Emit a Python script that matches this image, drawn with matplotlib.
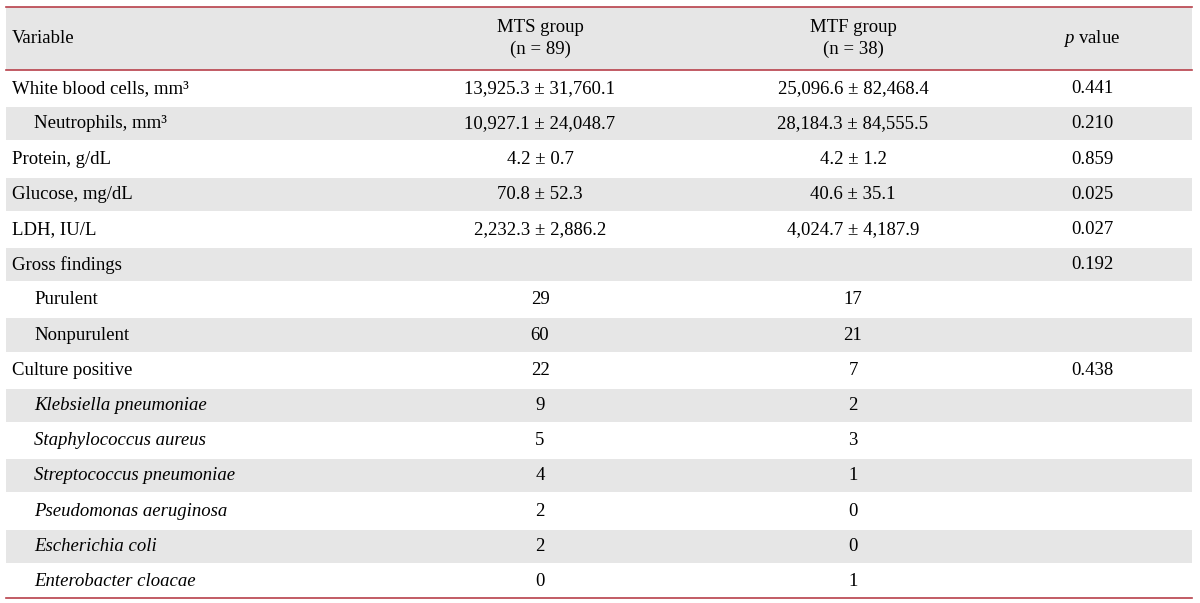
import matplotlib.pyplot as plt
from matplotlib.patches import Rectangle

plt.rcParams["font.family"] = "Liberation Serif"
plt.rcParams["mathtext.fontset"] = "custom"
plt.rcParams["mathtext.rm"] = "Liberation Serif"
plt.rcParams["mathtext.it"] = "Liberation Serif:italic"

header = ["Variable", "MTS group\n(n = 89)", "MTF group\n(n = 38)", "$\\it{p}$ value"]
variables = ["White blood cells, mm³", "Neutrophils, mm³", "Protein, g/dL", "Glucose, mg/dL",
             "LDH, IU/L", "Gross findings", "Purulent", "Nonpurulent", "Culture positive",
             "Klebsiella pneumoniae", "Staphylococcus aureus", "Streptococcus pneumoniae",
             "Pseudomonas aeruginosa", "Escherichia coli", "Enterobacter cloacae"]
indent = [0, 1, 0, 0, 0, 0, 1, 1, 0, 1, 1, 1, 1, 1, 1]
italic = [False] * 9 + [True] * 6
mts = ["13,925.3 ± 31,760.1", "10,927.1 ± 24,048.7", "4.2 ± 0.7", "70.8 ± 52.3",
       "2,232.3 ± 2,886.2", "", "29", "60", "22", "9", "5", "4", "2", "2", "0"]
mtf = ["25,096.6 ± 82,468.4", "28,184.3 ± 84,555.5", "4.2 ± 1.2", "40.6 ± 35.1",
       "4,024.7 ± 4,187.9", "", "17", "21", "7", "2", "3", "1", "0", "0", "1"]
pvals = ["0.441", "0.210", "0.859", "0.025", "0.027", "0.192", "", "", "0.438",
         "", "", "", "", "", ""]

fig = plt.figure(figsize=(12, 6.03), dpi=100)
ax = fig.add_axes([0, 0, 1, 1])
ax.set_xlim(0, 1200)
ax.set_ylim(603, 0)
ax.axis("off")

gray = "#e6e6e6"
red = "#b8404a"
x0, x1 = 6, 1192
top, head_bot = 7, 70
row_h = (598 - head_bot) / len(variables)
fs = 13.5
cols = [540, 853, 1092]

ax.add_patch(Rectangle((x0, top), x1 - x0, head_bot - top, color=gray, lw=0))
hy = (top + head_bot) / 2
ax.text(12, hy, header[0], va="center", fontsize=fs)
for c, h in zip(cols, header[1:]):
    ax.text(c, hy, h, va="center", ha="center", fontsize=fs, linespacing=1.3)

for i, v in enumerate(variables):
    y = head_bot + i * row_h
    if i % 2 == 1:
        ax.add_patch(Rectangle((x0, y + 2), x1 - x0, row_h - 2, color=gray, lw=0))
    yc = y + row_h / 2 + 1
    ax.text(12 + 22 * indent[i], yc, v, va="center", fontsize=fs,
            style="italic" if italic[i] else "normal")
    for c, vals in zip(cols, [mts, mtf, pvals]):
        ax.text(c, yc, vals[i], va="center", ha="center", fontsize=fs)

for y in [top, head_bot, 598]:
    ax.plot([x0, x1], [y, y], color=red, lw=1.2)

fig.savefig("out.png", dpi=100)
